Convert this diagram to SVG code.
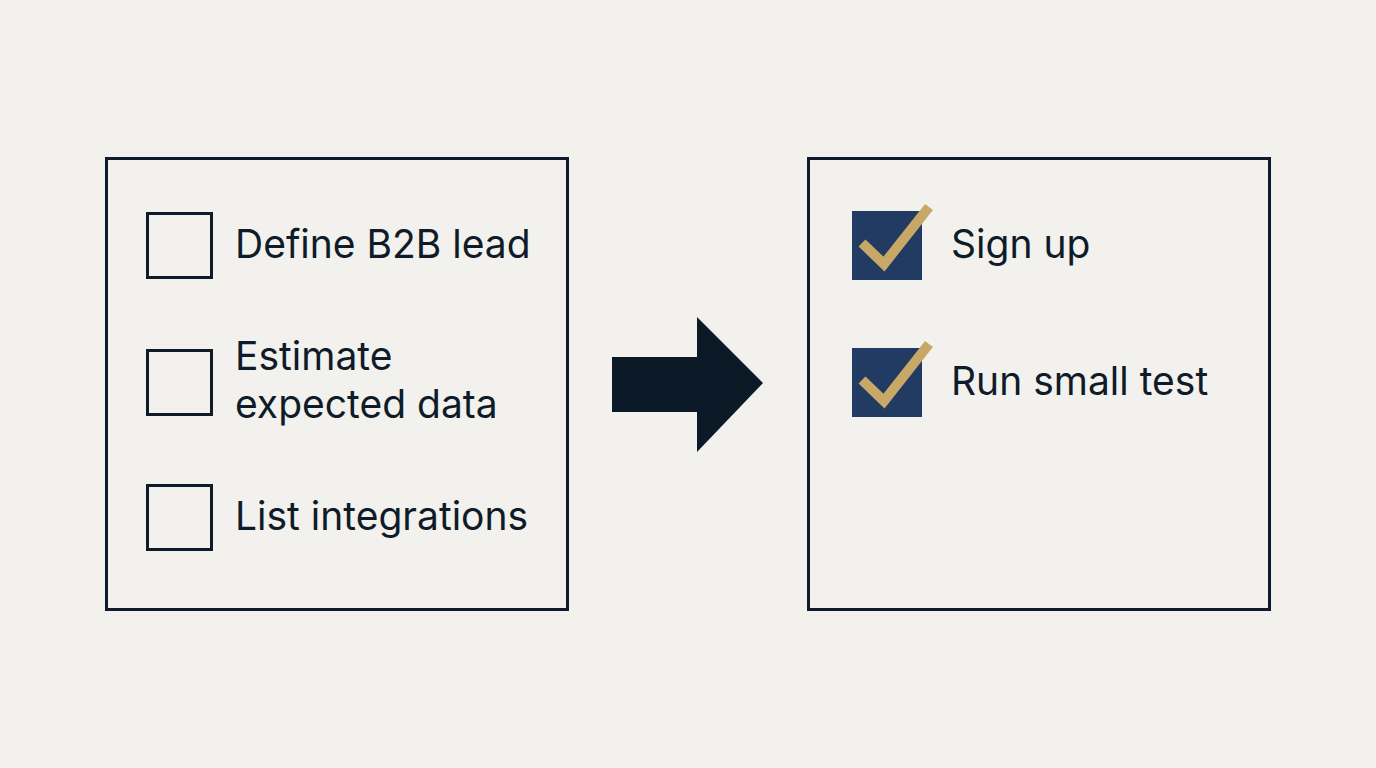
<svg xmlns="http://www.w3.org/2000/svg" width="1376" height="768" viewBox="0 0 1376 768">
<style>
.panel{fill:none;stroke:#0f1b29;stroke-width:3}
.box{fill:none;stroke:#0f1b29;stroke-width:3}
.done{fill:#213b62}
.tick{fill:none;stroke:#c8a866;stroke-width:10;stroke-linecap:butt;stroke-linejoin:miter}
.lbl{font-family:Inter,"Liberation Sans",sans-serif;font-size:39px;fill:#0f1b29}
</style>
<rect width="1376" height="768" fill="#f2f1ed"/>
<g id="todo-panel">
<rect class="panel" x="106.5" y="158.5" width="461" height="451"/>
</g>
<g id="item-define">
<rect class="box" x="147.5" y="213.5" width="64" height="64"/>
<text class="lbl" x="235" y="258">Define B2B lead</text>
</g>
<g id="item-estimate">
<rect class="box" x="147.5" y="350.5" width="64" height="64"/>
<text class="lbl" x="235" y="370">Estimate</text>
<text class="lbl" x="235" y="418">expected data</text>
</g>
<g id="item-list">
<rect class="box" x="147.5" y="485.5" width="64" height="64"/>
<text class="lbl" x="235" y="530">List integrations</text>
</g>
<g id="connectors">
<polygon points="612,357 697,357 697,317 763,383 697,452 697,412 612,412" fill="#0c1a28"/>
</g>
<g id="done-panel">
<rect class="panel" x="808.5" y="158.5" width="461" height="451"/>
</g>
<g id="item-signup">
<rect class="done" x="852" y="211" width="70" height="69"/>
<polyline class="tick" points="862,243 884,264 929,207"/>
<text class="lbl" x="951" y="258">Sign up</text>
</g>
<g id="item-test">
<rect class="done" x="852" y="348" width="70" height="69"/>
<polyline class="tick" points="862,380 884,401 929,344"/>
<text class="lbl" x="951" y="395">Run small test</text>
</g>
</svg>
